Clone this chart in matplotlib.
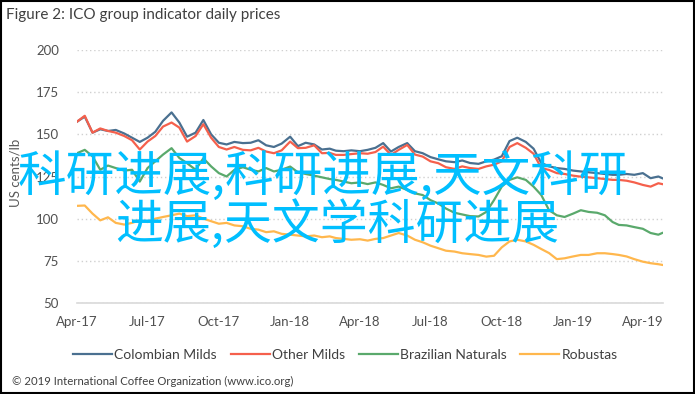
import matplotlib
matplotlib.use('Agg')
import matplotlib.pyplot as plt
import pandas as pd

# x categories: 1st, 11th, 21st of each month, Apr-2017 .. Apr-2019, plus last day shown
months = pd.period_range('2017-04', '2019-04', freq='M')
dates = [pd.Timestamp(f'{m}-{d:02d}') for m in months for d in (1, 11, 21)]
dates.append(pd.Timestamp('2019-04-26'))

colombian = [157.5, 160.5, 151, 153, 152, 152.6, 150.5, 148, 145.5, 148, 151.5, 158, 163,
             157, 148.6, 151, 158.5, 150, 145, 144, 145.5, 144.8, 145, 146.5, 143.5, 142.5,
             144.5, 148.6, 143, 145, 144, 141, 141.5, 140.3, 140, 140.5, 140, 140.8, 142,
             144.8, 139.8, 142.5, 144.8, 140, 138.8, 136.5, 135.2, 134, 133.5, 134.5, 133,
             132.5, 134, 135, 137, 146, 148, 145.5, 141.5, 133, 131, 130, 129.5, 128.5, 128,
             127.5, 127, 126.5, 126, 126, 126.5, 126, 127, 124, 125, 124]
other_milds = [157.5, 161, 151, 153.5, 152, 151, 149, 146.5, 141, 145.7, 149, 154.6, 157,
               154, 145.7, 149, 156, 148, 142.5, 141, 142.5, 140.8, 140.5, 142, 139.8, 138.8,
               140.5, 145.7, 141.8, 142, 143.5, 138.8, 139, 137.8, 137.8, 138.3, 138.8, 138.5,
               139.5, 142.7, 137.8, 140.8, 143.7, 138, 136.8, 134, 132.9, 130.5, 129.5, 131,
               130, 129.5, 131, 132, 134, 142.5, 144.8, 142, 138.5, 130, 128.9, 127, 126.5,
               125.5, 124.9, 124.5, 124, 123.5, 123, 123, 122.5, 121.5, 120, 119, 121, 120.5]
brazilian = [138.8, 140.8, 137, 129, 131.5, 130, 128.5, 129, 122, 130, 134, 138, 141.8,
             136, 132.9, 129, 135.8, 131, 127, 125, 128.9, 130.5, 129, 128, 130, 128, 129,
             130.9, 127.5, 126.5, 125.5, 124.5, 123.5, 123, 122, 121, 121.5, 120.5, 121.5,
             120, 118, 119, 117, 115, 114, 111, 109, 106, 103.5, 102.5, 101.5, 101.3, 104,
             111, 119, 123, 124.5, 123, 119, 114, 105, 102, 101, 103, 105, 104, 103.5, 102,
             98, 96.3, 96, 95, 94, 91.5, 90.5, 91.5]
robustas = [107.6, 107.8, 103, 99, 100.8, 97.5, 96.5, 97.5, 99, 98, 100, 101, 102, 103,
            101.5, 102, 100, 98.5, 97, 97.5, 96, 95.5, 94, 93.5, 92, 92.5, 91, 90.5, 90,
            89.5, 90, 89, 89.5, 88.5, 88, 87.5, 87.8, 87, 88, 88.5, 90, 91.5, 90, 87.5, 86,
            84, 82.5, 81, 80.5, 79.5, 79, 78.5, 77.5, 78, 83, 86.5, 87.5, 86.5, 84.5, 82,
            79.6, 76, 76.5, 77.6, 78.5, 78.5, 79.5, 79.5, 79, 78.5, 77.6, 76, 74.5, 73.6, 73,
            72.6]

series = [('Colombian Milds', colombian, '#4a7090'),
          ('Other Milds', other_milds, '#f5604c'),
          ('Brazilian Naturals', brazilian, '#5aa96c'),
          ('Robustas', robustas, '#ffb74d')]

yticks = [50, 75, 100, 125, 150, 175, 200]
xtick_labels = ['Apr-17', 'Jul-17', 'Oct-17', 'Jan-18', 'Apr-18', 'Jul-18',
                'Oct-18', 'Jan-19', 'Apr-19']

plt.rcParams['font.family'] = ['Lato', 'DejaVu Sans']

fig = plt.figure(figsize=(6.95, 3.94), dpi=100)
ax = fig.add_axes([77 / 695, 1 - 303 / 394, (663 - 77) / 695, (303 - 50) / 394])

for name, vals, col in series:
    ax.plot(dates, vals, color=col, lw=1.6, label=name)

ax.set_ylim(50, 200)
ax.set_xlim(pd.Timestamp('2017-04-01'), pd.Timestamp('2019-04-27'))
ax.set_yticks(yticks)
ax.set_xticks([pd.Timestamp(f'20{l[-2:]}-{l[:3]}-01') for l in xtick_labels])
ax.set_xticklabels(xtick_labels)
ax.tick_params(length=0, labelsize=9.5, colors='#505050', pad=9)
ax.tick_params(axis='y', pad=13)
ax.grid(axis='y', color='#d0d0d0', ls=(0, (1, 2)), lw=1)
ax.set_axisbelow(True)
for s in ['top', 'right', 'left']:
    ax.spines[s].set_visible(False)
ax.spines['bottom'].set_color('#d9d9d9')
ax.spines['bottom'].set_linewidth(1.2)

fig.text(15 / 695, 1 - 173 / 394, 'US cents/lb', rotation=90, va='center', ha='center',
         fontsize=9.5, color='#595959')
fig.text(6 / 695, 1 - 15 / 394, 'Figure 2: ICO group indicator daily prices', va='center',
         fontsize=11, color='#404040')

fig.legend(loc='center', bbox_to_anchor=(0.497, 1 - 355 / 394), ncol=4, frameon=False,
           fontsize=10, handlelength=2.8, handletextpad=0.15, columnspacing=1.0,
           labelcolor='#404040')

fig.text(12 / 695, 1 - 381 / 394, '© 2019 International Coffee Organization (www.ico.org)',
         va='center', fontsize=8.2, color='#404040')

# overlay text
cjk = ['Noto Sans CJK SC', 'DejaVu Sans']
fig.text(18 / 695, 1 - 178 / 394, '科研进展,科研进展,天文科研', family=cjk, fontsize=35,
         color='#00bfff', va='center', ha='left')
fig.text(115 / 695, 1 - 225 / 394, '进展,天文学科研进展', family=cjk, fontsize=34.5,
         color='#00bfff', va='center', ha='left')

# outer frame
fig.patches.append(plt.Rectangle((0.001, 0.002), 0.997, 0.996, transform=fig.transFigure,
                                 fill=False, edgecolor='black', lw=1.5))

fig.savefig('out.png', dpi=100)
